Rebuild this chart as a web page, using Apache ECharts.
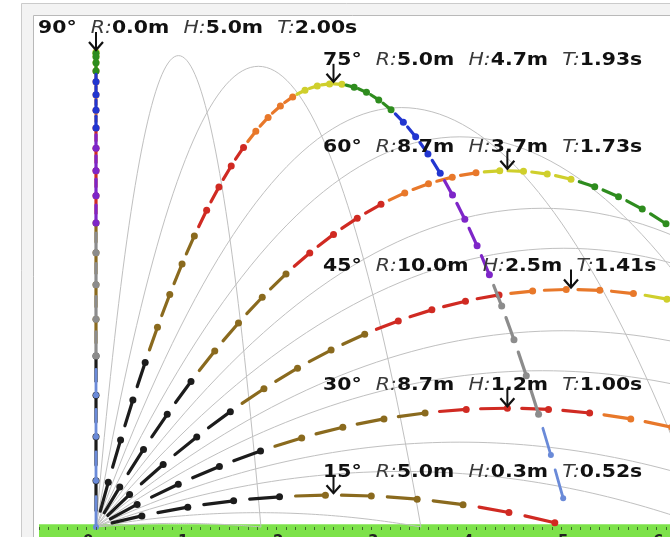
<!DOCTYPE html>
<html>
<head>
<meta charset="utf-8">
<script src="https://cdn.jsdelivr.net/npm/echarts@6/dist/echarts.min.js"></script>
<style>
html, body { margin: 0; padding: 0; background: #fff; }
#chart { width: 670px; height: 537px; }
</style>
</head>
<body>
<div id="chart"></div>
<script>
// launch angles drawn in colour and the values printed in their labels
const angles = [90, 75, 60, 45, 30, 15];
const ranges = [0.0, 5.0, 8.7, 10.0, 8.7, 5.0];
const heights = [5.0, 4.7, 3.7, 2.5, 1.2, 0.3];
const times = [2.00, 1.93, 1.73, 1.41, 1.00, 0.52];
// thin grey throws every 5 degrees
const thinAngles = [5, 10, 20, 25, 35, 40, 50, 55, 65, 70, 80, 85];
// ruler labels under the ground (only their tops show)
const rulerLabels = ['0m', '1m', '2m', '3m', '4m', '5m', '6m'];
// 45° label: R = v²/g = 10 m and T = 2v·sin45°/g = 1.41 s  ->  v = 10 m/s, g = 10 m/s²
const speed = 10;
const gravity = 10;
const stepTime = 0.05;   // one arrow per step
const bandTime = 0.2;    // colour changes every 4 arrows (resistor colour code)
const bandColors = ['#1c1c1c', '#8a6a1e', '#d02a22', '#e8782a', '#cfcf2c',
                    '#2e8c1e', '#2236d0', '#7e26c8', '#8c8c8c', '#6a8ad8'];

const PX = 95; // pixels per metre, same on both axes

const rad = d => d * Math.PI / 180;
const pos = (deg, t) => [speed * Math.cos(rad(deg)) * t,
                         speed * Math.sin(rad(deg)) * t - gravity * t * t / 2];
const flight = deg => 2 * speed * Math.sin(rad(deg)) / gravity;

const chart = echarts.init(document.getElementById('chart'));

// thin grey trajectories
const thinSeries = thinAngles.map(deg => {
  const pts = [];
  const T = flight(deg);
  for (let n = 0; n <= 80; n++) pts.push(pos(deg, T * n / 80));
  return {
    type: 'line', data: pts, showSymbol: false, silent: true, z: 2,
    lineStyle: { color: '#c0c0c0', width: 1 }
  };
});

// arrow steps of the coloured throws; 15° first so steeper ones lie on top
const stepData = [];
[...angles].reverse().forEach(deg => {
  const n = Math.floor(flight(deg) / stepTime + 1e-6);
  for (let k = 0; k < n; k++) stepData.push([deg, k]);
});

const peakData = angles.map((deg, i) => [
  speed * speed * Math.sin(2 * rad(deg)) / (2 * gravity),
  Math.pow(speed * Math.sin(rad(deg)), 2) / (2 * gravity),
  i
]);

const fontFamily = '"DejaVu Sans", sans-serif';
const rich = {
  b: { fontFamily, fontSize: 17, fontWeight: 'bold', fill: '#111' },
  i: { fontFamily, fontSize: 17, fontStyle: 'italic', fill: '#3a3a3a' }
};

const option = {
  animation: false,
  grid: { left: 39, right: 0, top: 0, bottom: 0, containLabel: false, outerBoundsMode: 'none' },
  xAxis: {
    type: 'value',
    min: -0.6,
    max: -0.6 + 631 / PX,
    interval: 0.1,
    z: 10,
    axisLine: { onZero: true, lineStyle: { opacity: 0 } },
    axisTick: { length: 3, lineStyle: { color: '#3d6a2a', width: 1 } },
    axisLabel: { show: false },
    splitLine: { show: false }
  },
  yAxis: {
    type: 'value',
    show: false,
    min: -10 / PX,
    max: 527 / PX,
    splitLine: { show: false }
  },
  graphic: [
    { type: 'rect', z: -5, shape: { x: 21.5, y: 3.5, width: 700, height: 600 },
      style: { fill: '#f3f3f3', stroke: '#cbcbcb', lineWidth: 1 } },
    { type: 'rect', z: -4, shape: { x: 33.5, y: 15.5, width: 700, height: 600 },
      style: { fill: '#ffffff', stroke: '#b9b9b9', lineWidth: 1 } }
  ],
  series: [
    {
      // ground
      type: 'line', data: [], z: 1, clip: false, silent: true,
      markArea: {
        silent: true,
        itemStyle: { color: '#7de24a' },
        data: [[{ coord: [-0.663, 0.03] }, { coord: [7, -0.3] }]]
      }
    },
    {
      // ruler numbers, cut off by the bottom edge
      type: 'custom',
      z: 11,
      silent: true,
      data: rulerLabels.map((s, i) => [i, 0]),
      renderItem: (params, api) => {
        const p = api.coord([api.value(0), 0]);
        return {
          type: 'text', x: p[0], y: p[1] + 8,
          style: { text: rulerLabels[params.dataIndex], align: 'center', verticalAlign: 'top',
                   font: 'bold 15px ' + fontFamily, fill: '#222' }
        };
      }
    },
    ...thinSeries,
    {
      type: 'custom',
      z: 3,
      silent: true,
      data: stepData,
      renderItem: (params, api) => {
        const deg = api.value(0);
        const k = api.value(1);
        const t0 = k * stepTime;
        const band = Math.min(Math.floor(t0 / bandTime + 1e-6), bandColors.length - 1);
        const c = bandColors[band];
        const p0 = api.coord(pos(deg, t0 + 0.35 * stepTime));
        const p1 = api.coord(pos(deg, t0 + stepTime));
        const last = band === bandColors.length - 1;
        return {
          type: 'group',
          children: [
            { type: 'line', shape: { x1: p0[0], y1: p0[1], x2: p1[0], y2: p1[1] },
              style: { stroke: c, lineWidth: last ? 2.8 : 3.2, lineCap: 'round' } },
            { type: 'circle', shape: { cx: p1[0], cy: p1[1], r: last ? 3 : 3.5 },
              style: { fill: c } }
          ]
        };
      }
    },
    {
      // peak arrows and labels
      type: 'custom',
      z: 6,
      silent: true,
      data: peakData,
      renderItem: (params, api) => {
        const i = api.value(2);
        const deg = angles[i];
        const p = api.coord([api.value(0), api.value(1)]);
        const lx = api.coord([deg === 90 ? -0.61 : 2.39, 0])[0];
        const text = `{b|${deg}°}  {i|R:}{b|${ranges[i].toFixed(1)}m}  {i|H:}{b|${heights[i].toFixed(1)}m}  {i|T:}{b|${times[i].toFixed(2)}s}`;
        return {
          type: 'group',
          children: [
            { type: 'line', shape: { x1: p[0], y1: p[1] - 20, x2: p[0], y2: p[1] - 2 },
              style: { stroke: '#111', lineWidth: 2 } },
            { type: 'polyline', shape: { points: [[p[0] - 7, p[1] - 10], [p[0], p[1] - 2], [p[0] + 7, p[1] - 10]] },
              style: { stroke: '#111', lineWidth: 2.2, fill: null } },
            { type: 'text', x: lx, y: p[1] - 23, scaleX: 1.2,
              style: { text, rich, align: 'left', verticalAlign: 'middle',
                       font: 'bold 17px ' + fontFamily, fill: '#111' } }
          ]
        };
      }
    }
  ]
};

chart.setOption(option);
</script>
</body>
</html>
